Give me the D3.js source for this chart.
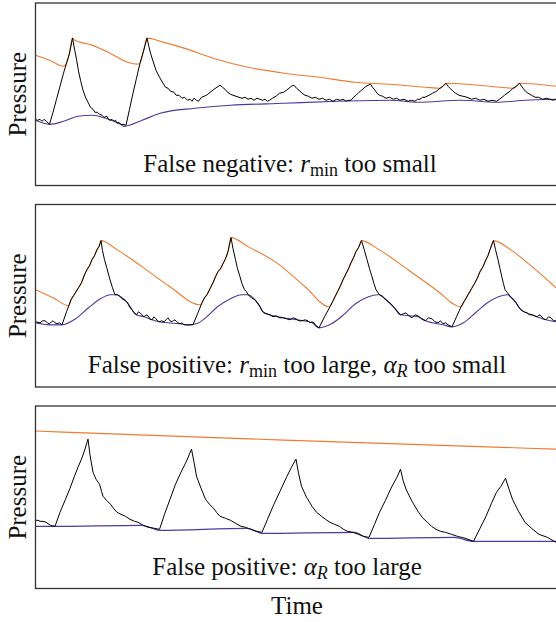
<!DOCTYPE html>
<html><head><meta charset="utf-8">
<script src="https://cdn.jsdelivr.net/npm/d3@7"></script>
<style>body{margin:0;background:#fff}svg{display:block}</style>
</head><body><svg id="c" width="556" height="622"></svg>
<script>
// time in s, pressure in arbitrary units
const p1Signal=[[0,66],[0.02,65],[0.045,66],[0.065,64],[0.085,66],[0.11,64],[0.14,61],[0.175,73],[0.21,86],[0.245,99],[0.28,112],[0.31,122],[0.34,132],[0.37,147],[0.39,136],[0.41,126],[0.43,114],[0.45,105],[0.475,95],[0.5,88],[0.525,83],[0.55,78],[0.575,76],[0.595,73],[0.62,73],[0.64,71],[0.665,70],[0.685,68],[0.715,69],[0.73,66],[0.745,65],[0.765,66],[0.785,64],[0.8,65],[0.815,62],[0.835,63],[0.85,61],[0.875,61],[0.905,60],[0.94,76],[0.975,92],[1.01,107],[1.045,122],[1.08,134],[1.115,147],[1.135,138],[1.15,132],[1.175,124],[1.205,115],[1.24,108],[1.275,102],[1.3,98],[1.325,97],[1.35,94],[1.385,93],[1.405,90],[1.435,90],[1.465,87],[1.49,88],[1.52,85],[1.545,86],[1.565,84],[1.585,87],[1.61,85],[1.63,84],[1.66,88],[1.685,89],[1.71,90],[1.735,92],[1.76,94],[1.785,96],[1.815,98],[1.845,100],[1.87,98],[1.895,96],[1.92,93],[1.95,91],[1.975,90],[2.005,89],[2.035,88],[2.065,87],[2.095,88],[2.125,86],[2.155,87],[2.185,85],[2.215,87],[2.245,86],[2.27,85],[2.295,86],[2.32,84],[2.34,85],[2.37,87],[2.405,89],[2.44,92],[2.48,93],[2.51,95],[2.535,97],[2.56,99],[2.585,100],[2.61,97],[2.635,95],[2.665,92],[2.695,90],[2.73,89],[2.765,87],[2.8,88],[2.835,86],[2.87,87],[2.905,85],[2.94,86],[2.975,84],[3.01,86],[3.045,85],[3.075,86],[3.105,84],[3.13,85],[3.155,85],[3.18,88],[3.205,90],[3.235,93],[3.26,95],[3.285,97],[3.305,99],[3.35,101],[3.37,98],[3.395,95],[3.415,92],[3.44,90],[3.47,89],[3.505,87],[3.54,88],[3.58,86],[3.61,87],[3.645,85],[3.685,86],[3.725,84],[3.76,85],[3.795,84],[3.82,86],[3.845,86],[3.87,88],[3.895,88],[3.935,90],[3.97,92],[4.01,94],[4.045,97],[4.075,99],[4.105,102],[4.125,99],[4.145,97],[4.175,94],[4.2,92],[4.235,90],[4.275,89],[4.315,88],[4.36,86],[4.4,87],[4.445,85],[4.485,86],[4.525,84],[4.565,85],[4.61,84],[4.64,86],[4.665,88],[4.69,90],[4.715,92],[4.745,94],[4.775,97],[4.81,99],[4.84,102],[4.86,99],[4.875,97],[4.9,94],[4.925,92],[4.96,90],[4.995,88],[5.03,88],[5.07,86],[5.11,87],[5.145,86],[5.175,85],[5.205,86]];
const p1Upper=[[0,130],[0.14,125],[0.28,119],[0.31,122],[0.34,132],[0.37,147],[0.39,145],[0.565,140],[0.745,132],[0.92,123],[1.02,121],[1.045,122],[1.08,134],[1.115,147],[1.275,143],[1.485,137],[1.775,127],[2.125,118],[2.485,112],[2.835,108],[3.195,103],[3.545,101],[3.9,98],[4.05,97],[4.105,102],[4.43,100],[4.785,97],[4.84,102],[5.205,99]];
const p1Lower=[[0,65],[0.14,61],[0.28,64],[0.425,69],[0.565,70],[0.7,67],[0.785,64],[0.85,61],[0.885,59],[1.065,65],[1.245,72],[1.595,77],[1.95,80],[2.485,82],[3.015,84],[3.545,85],[3.825,83],[4.255,85],[4.61,83],[4.895,85],[5.205,86]];

const p2Signal=[[0,65],[0.045,64],[0.07,66],[0.095,66],[0.12,64],[0.14,63],[0.16,65],[0.175,66],[0.195,64],[0.215,63],[0.24,64],[0.265,62],[0.31,75],[0.355,87],[0.38,91],[0.405,95],[0.43,99],[0.46,104],[0.49,112],[0.515,117],[0.54,121],[0.565,127],[0.59,131],[0.615,137],[0.635,140],[0.655,146],[0.67,136],[0.69,127],[0.715,118],[0.745,107],[0.77,99],[0.795,92],[0.82,92],[0.85,90],[0.865,88],[0.885,87],[0.9,86],[0.92,84],[0.94,80],[0.965,77],[0.985,74],[1.01,72],[1.03,75],[1.045,74],[1.065,72],[1.085,70],[1.105,72],[1.125,71],[1.145,68],[1.165,67],[1.185,70],[1.205,68],[1.22,66],[1.24,65],[1.26,66],[1.285,65],[1.305,67],[1.325,69],[1.345,66],[1.365,65],[1.385,67],[1.405,66],[1.425,64],[1.445,63],[1.465,64],[1.485,62],[1.53,62],[1.575,62],[1.62,73],[1.665,84],[1.69,89],[1.715,92],[1.745,98],[1.775,104],[1.8,110],[1.825,115],[1.85,118],[1.88,124],[1.9,128],[1.925,135],[1.955,149],[1.975,138],[2,127],[2.02,118],[2.045,110],[2.065,103],[2.09,97],[2.11,95],[2.125,92],[2.16,89],[2.195,87],[2.22,84],[2.245,80],[2.265,76],[2.285,74],[2.315,73],[2.345,72],[2.375,70],[2.405,71],[2.44,69],[2.48,69],[2.51,68],[2.545,67],[2.575,69],[2.605,68],[2.635,66],[2.665,66],[2.695,67],[2.725,66],[2.745,64],[2.765,65],[2.785,64],[2.805,61],[2.835,59],[2.89,70],[2.945,80],[2.97,85],[2.995,90],[3.02,95],[3.045,100],[3.075,107],[3.105,113],[3.13,118],[3.155,124],[3.18,129],[3.205,135],[3.23,139],[3.26,146],[3.29,136],[3.315,127],[3.34,118],[3.365,110],[3.385,103],[3.405,97],[3.425,94],[3.44,92],[3.47,90],[3.505,87],[3.54,84],[3.58,80],[3.615,76],[3.65,72],[3.68,73],[3.705,74],[3.735,71],[3.765,69],[3.795,72],[3.825,71],[3.86,68],[3.9,66],[3.93,69],[3.965,68],[3.995,65],[4.025,64],[4.05,66],[4.075,63],[4.1,64],[4.125,62],[4.145,61],[4.165,60],[4.21,70],[4.255,80],[4.29,86],[4.325,92],[4.36,98],[4.395,104],[4.42,109],[4.445,115],[4.475,120],[4.505,127],[4.525,131],[4.545,137],[4.58,146],[4.6,137],[4.625,127],[4.645,118],[4.665,109],[4.68,103],[4.695,97],[4.72,94],[4.75,90],[4.78,87],[4.805,84],[4.83,80],[4.855,77],[4.885,75],[4.915,74],[4.94,72],[4.965,72],[4.99,71],[5.015,70],[5.035,72],[5.055,71],[5.08,68],[5.105,67],[5.13,70],[5.155,69],[5.18,66],[5.205,66]];
const p2Upper=[[0,97],[0.175,89],[0.335,81],[0.355,87],[0.38,91],[0.405,95],[0.43,99],[0.46,104],[0.49,112],[0.515,117],[0.54,121],[0.565,127],[0.59,131],[0.615,137],[0.635,140],[0.655,146],[0.815,137],[1.065,120],[1.345,100],[1.645,82],[1.665,84],[1.69,89],[1.715,92],[1.745,98],[1.775,104],[1.8,110],[1.825,115],[1.85,118],[1.88,124],[1.9,128],[1.925,135],[1.955,149],[2.125,140],[2.41,124],[2.695,100],[2.94,80],[2.97,85],[2.995,90],[3.02,95],[3.045,100],[3.075,107],[3.105,113],[3.13,118],[3.155,124],[3.18,129],[3.205,135],[3.23,139],[3.26,146],[3.435,137],[3.725,117],[4.005,97],[4.255,80],[4.29,86],[4.325,92],[4.36,98],[4.395,104],[4.42,109],[4.445,115],[4.475,120],[4.505,127],[4.525,131],[4.545,137],[4.58,146],[4.75,137],[4.965,120],[5.205,99]];
const p2Lower=[[0,64],[0.14,62],[0.265,62],[0.4,68],[0.53,79],[0.65,88],[0.75,92],[0.815,92],[0.85,90],[0.92,84],[0.965,77],[1.01,72],[1.085,70],[1.165,67],[1.24,65],[1.445,63],[1.53,62],[1.61,63],[1.7,69],[1.82,80],[1.95,88],[2.06,92],[2.125,92],[2.195,87],[2.245,80],[2.285,74],[2.48,69],[2.765,64],[2.835,59],[2.96,63],[3.08,72],[3.2,83],[3.33,90],[3.42,92],[3.44,92],[3.505,87],[3.58,80],[3.65,72],[3.825,70],[3.9,66],[4.075,62],[4.165,60],[4.28,64],[4.4,74],[4.52,84],[4.63,90],[4.72,92],[4.75,90],[4.805,84],[4.855,77],[4.965,72],[5.105,67],[5.205,65]];

const p3Signal=[[0,68],[0.025,68],[0.045,67],[0.075,67],[0.105,66],[0.15,63],[0.195,62],[0.245,76],[0.3,89],[0.345,100],[0.39,112],[0.425,121],[0.46,129],[0.495,139],[0.525,149],[0.545,133],[0.575,116],[0.605,109],[0.64,104],[0.66,97],[0.675,92],[0.71,88],[0.75,84],[0.78,80],[0.815,76],[0.855,74],[0.9,72],[0.945,69],[0.99,67],[1.025,66],[1.06,64],[1.1,62],[1.135,61],[1.19,60],[1.24,59],[1.29,74],[1.345,89],[1.4,104],[1.455,116],[1.51,127],[1.56,139],[1.585,126],[1.61,112],[1.655,100],[1.7,89],[1.74,84],[1.78,80],[1.81,76],[1.845,72],[1.9,70],[1.95,68],[2.0,65],[2.055,62],[2.1,61],[2.15,59],[2.21,57],[2.265,56],[2.32,69],[2.375,82],[2.445,97],[2.515,112],[2.56,121],[2.605,129],[2.63,115],[2.66,102],[2.71,91],[2.765,82],[2.81,76],[2.86,72],[2.9,69],[2.945,66],[2.99,64],[3.04,62],[3.08,59],[3.12,57],[3.175,56],[3.23,54],[3.28,52],[3.335,51],[3.39,64],[3.44,76],[3.5,88],[3.565,102],[3.61,110],[3.65,119],[3.675,108],[3.705,99],[3.765,87],[3.83,76],[3.875,70],[3.92,66],[3.96,62],[4.005,59],[4.05,57],[4.1,56],[4.16,54],[4.22,52],[4.3,50],[4.38,47],[4.445,60],[4.505,72],[4.56,85],[4.61,96],[4.655,102],[4.7,110],[4.735,99],[4.77,89],[4.83,77],[4.895,66],[4.96,60],[5.035,54],[5.12,51],[5.205,46]];
const p3Upper=[[0,157],[2.485,148],[5.205,139]];
const p3Lower=[[0,62],[0.175,62],[1.065,63],[1.24,58],[2.125,60],[2.265,55],[3.19,56],[3.335,50],[4.185,51],[4.38,47],[5.205,47]];

const panels=[
 {top:3,signal:p1Signal,upper:p1Upper,lower:p1Lower,title:[["False negative: ",""],["r","i"],["min","sub"],[" too small",""]],tx:290},
 {top:204.5,signal:p2Signal,upper:p2Upper,lower:p2Lower,title:[["False positive: ",""],["r","i"],["min","sub"],[" too large, ",""],["α","i"],["R","isub"],[" too small",""]],tx:297},
 {top:406,signal:p3Signal,upper:p3Upper,lower:p3Lower,title:[["False positive: ",""],["α","i"],["R","isub"],[" too large",""]],tx:287}
];
const FONT="'Liberation Serif', Tinos, 'Times New Roman', 'DejaVu Serif', serif";
const H=182.5, left=35.5, right=560;
const svg=d3.select("#c");
const x=d3.scaleLinear().domain([0,5.24]).range([left,left+5.24*100]);
panels.forEach(p=>{
  const y=d3.scaleLinear().domain([0,182]).range([p.top+H,p.top]);
  const g=svg.append("g");
  const line=d3.line().x(d=>x(d[0])).y(d=>y(d[1]));
  const smooth=d3.line().x(d=>x(d[0])).y(d=>y(d[1])).curve(d3.curveMonotoneX);
  g.append("path").attr("d",smooth(p.upper)).attr("fill","none").attr("stroke","#ee7b33").attr("stroke-width",1.1);
  g.append("path").attr("d",smooth(p.lower)).attr("fill","none").attr("stroke","#4a3c9c").attr("stroke-width",1.1);
  g.append("path").attr("d",line(p.signal)).attr("fill","none").attr("stroke","#000").attr("stroke-width",1).attr("stroke-linejoin","round");
  g.append("rect").attr("x",left).attr("y",p.top).attr("width",right-left).attr("height",H).attr("fill","none").attr("stroke","#333").attr("stroke-width",1.3);
  g.append("text").attr("transform",`translate(26,${p.top+H/2}) rotate(-90)`).attr("text-anchor","middle").attr("font-family",FONT).attr("font-size",25).attr("fill","#111").text("Pressure");
  const t=g.append("text").attr("x",p.tx).attr("y",p.top+H-14).attr("text-anchor","middle").attr("font-family",FONT).attr("font-size",25).attr("fill","#111");
  p.title.forEach(([s,k],i)=>{
    const ts=t.append("tspan").text(s);
    const prev=i>0?p.title[i-1][1]:"";
    if(k==="i") ts.attr("font-style","italic");
    if(k==="sub") ts.attr("font-size",18).attr("dy",4);
    if(k==="isub") ts.attr("font-size",18).attr("dy",4).attr("font-style","italic");
    if(prev==="sub"||prev==="isub") ts.attr("dy",-4);
  });
});
svg.append("text").attr("x",297).attr("y",614).attr("text-anchor","middle").attr("font-family",FONT).attr("font-size",25).attr("fill","#111").text("Time");
</script></body></html>
